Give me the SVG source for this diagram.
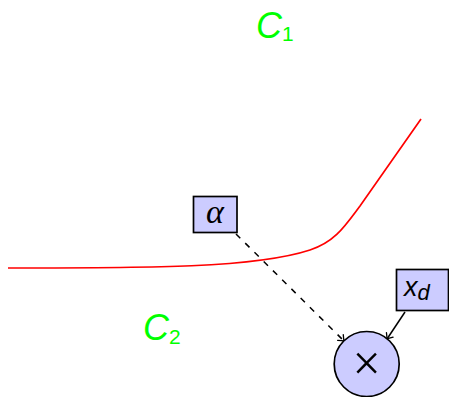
<svg xmlns="http://www.w3.org/2000/svg" width="449" height="397" viewBox="0 0 449 397">
<style>
.box{fill:#ccccff;stroke:#000;stroke-width:1.7}
.lbl{font-family:"Liberation Sans",sans-serif;font-style:italic;fill:#00ff00}
.sub{font-style:normal;font-size:21px}
.conn{fill:none;stroke:#000;stroke-width:1.5}
</style>
<defs>
<marker id="arr" viewBox="-6 -5 8 10" markerWidth="8" markerHeight="10" refX="0" refY="0" orient="auto" markerUnits="userSpaceOnUse">
<path d="M-5,-4 Q-1.5,-1 0,0 Q-1.5,1 -5,4" fill="none" stroke="#000" stroke-width="1.3" stroke-linecap="round"/>
</marker>
</defs>
<g id="curve">
<path d="M8,268 C150,268 255,268 310,250 C335,242 345,226 360,206 L421,119" fill="none" stroke="#ff0000" stroke-width="1.7"/>
</g>
<g id="C1">
<text class="lbl" x="256" y="38" font-size="36">C<tspan class="sub" dy="3">1</tspan></text>
</g>
<g id="C2">
<text class="lbl" x="143" y="340" font-size="36">C<tspan class="sub" dy="4">2</tspan></text>
</g>
<g id="connectors">
<path class="conn" d="M236,234 L344,341" stroke-dasharray="6,7" marker-end="url(#arr)"/>
<path class="conn" d="M405,312 L387,339" marker-end="url(#arr)"/>
</g>
<g id="alpha">
<rect class="box" x="193.5" y="196.5" width="43.5" height="36"/>
<text x="215" y="223" font-family="Liberation Serif,serif" font-style="italic" font-size="34" text-anchor="middle">α</text>
</g>
<g id="xd">
<rect class="box" x="396.5" y="269.5" width="52" height="41"/>
<text x="404" y="296" font-family="Liberation Sans,sans-serif" font-style="italic" font-size="27">x<tspan font-size="22" dy="4">d</tspan></text>
</g>
<g id="mult">
<circle class="box" cx="366.7" cy="364" r="32.5"/>
<text x="366.7" y="380" font-family="Liberation Serif,serif" font-size="50" text-anchor="middle">×</text>
</g>
</svg>
